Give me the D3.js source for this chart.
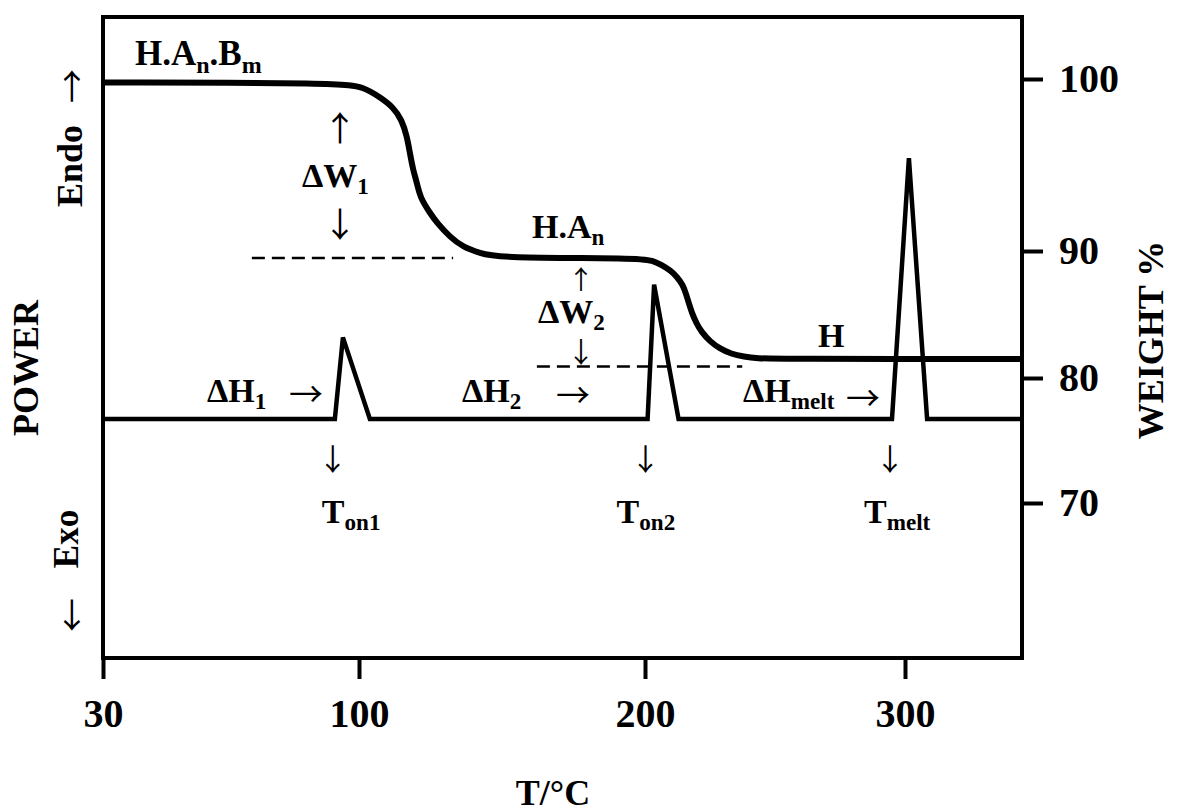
<!DOCTYPE html>
<html>
<head>
<meta charset="utf-8">
<script src="https://cdn.jsdelivr.net/npm/d3@7"></script>
<style>
  body { margin: 0; background: #fff; }
  text { font-family: "Liberation Serif", "Times New Roman", serif; font-weight: bold; fill: #000; }
  text.arw { font-family: "Noto Sans CJK JP", "DejaVu Sans", sans-serif; font-weight: normal; fill: #000; }
</style>
</head>
<body>
<svg id="chart" width="1178" height="812"></svg>
<script>
// temperature axis ticks (degC) and weight axis ticks (%)
const tempTicks = [30, 100, 200, 300];
const weightTicks = [100, 90, 80, 70];

// TG trace: weight % against temperature
const tgTemp = [30, 95.6, 101.4, 107.3, 111.9, 115.0, 116.8, 117.8, 118.9, 120.3, 121.3,
                124.8, 127.3, 131.8, 136.4, 142.3, 148.3,
                198.3, 202.9, 206.4, 209.9, 212.2, 214.6, 215.7, 216.9, 218.1, 219.8,
                221.6, 225.1, 228.6, 233.2, 237.9, 243.7, 249.5, 345];
const tgWeight = [99.8, 99.77, 99.53, 98.95, 98.37, 97.62, 96.63, 95.70, 94.71, 93.95, 93.14,
                  92.21, 91.63, 90.81, 90.23, 89.84, 89.45,
                  89.45, 89.24, 88.90, 88.45, 87.98, 87.32, 86.67, 85.88, 85.09, 84.31,
                  83.65, 82.86, 82.34, 81.89, 81.68, 81.55, 81.5, 81.5];

// DSC trace: power (arbitrary units) against temperature
const dscTemp = [30, 93.4, 95.6, 103.8, 201.0, 203.5, 212.9, 295.0, 301.5, 308.5, 345];
const dscPower = [0, 0, 5.1, 0, 0, 8.4, 0, 0, 16.3, 0, 0];

// dashed reference levels for the weight steps
const stepLevels = [
  {from: 70.7, to: 132.9, w: 89.45},
  {from: 162.2, to: 237.4, w: 80.9}
];

// onset temperatures of the three events
const onsets = [93.4, 201.0, 295.0];
const onsetNames = ["on1", "on2", "melt"];

const svg = d3.select("#chart");
const mLeft = 103, mTop = 17, mRight = 1022, mBottom = 658;

// the original sketch is not linear in T, so use a piecewise scale
const x = d3.scaleLinear()
  .domain([30, 100, 200, 300, 345])
  .range([mLeft, 359, 645, 905, mRight]);

const yW = d3.scaleLinear()
  .domain([100, 90, 80, 70])
  .range([79, 251, 378, 503]);

const yP = d3.scaleLinear()
  .domain([0, 20])
  .range([419, 99]);

// frame
svg.append("rect")
  .attr("x", mLeft).attr("y", mTop)
  .attr("width", mRight - mLeft).attr("height", mBottom - mTop)
  .attr("fill", "none").attr("stroke", "#000").attr("stroke-width", 4);

// bottom axis
const xAxis = svg.append("g")
  .attr("transform", "translate(0," + mBottom + ")")
  .call(d3.axisBottom(x).tickValues(tempTicks).tickSize(21).tickFormat(d3.format("d")));
xAxis.select(".domain").remove();
xAxis.selectAll("line").attr("stroke-width", 4);
xAxis.selectAll("text")
  .attr("y", 69).attr("dy", 0)
  .style("font-size", "40px")
  .style("font-family", "Liberation Serif, serif")
  .style("font-weight", "bold");

// right axis (weight)
const wAxis = svg.append("g")
  .attr("transform", "translate(" + mRight + ",0)")
  .call(d3.axisRight(yW).tickValues(weightTicks).tickSize(21).tickFormat(d3.format("d")));
wAxis.select(".domain").remove();
wAxis.selectAll("line").attr("stroke-width", 4);
wAxis.selectAll("text")
  .attr("x", 37).attr("dy", "0.3em")
  .style("font-size", "40px")
  .style("font-family", "Liberation Serif, serif")
  .style("font-weight", "bold");

// traces
const tgLine = d3.line()
  .x(i => x(tgTemp[i]))
  .y(i => yW(tgWeight[i]))
  .curve(d3.curveBasis);

svg.append("path")
  .attr("d", tgLine(d3.range(tgTemp.length)))
  .attr("fill", "none").attr("stroke", "#000")
  .attr("stroke-width", 6);

const dscLine = d3.line()
  .x(i => x(dscTemp[i]))
  .y(i => yP(dscPower[i]));

svg.append("path")
  .attr("d", dscLine(d3.range(dscTemp.length)))
  .attr("fill", "none").attr("stroke", "#000")
  .attr("stroke-width", 4.5).attr("stroke-linejoin", "miter");

svg.selectAll(".step")
  .data(stepLevels)
  .join("line")
  .attr("class", "step")
  .attr("x1", d => x(d.from)).attr("x2", d => x(d.to))
  .attr("y1", d => yW(d.w)).attr("y2", d => yW(d.w))
  .attr("stroke", "#000").attr("stroke-width", 2.5)
  .attr("stroke-dasharray", "13,7");

// label helper: main text plus optional subscript
function label(px, py, main, sub, size) {
  size = size || 34;
  let t = svg.append("text")
    .attr("x", px).attr("y", py)
    .style("font-size", size + "px");
  t.append("tspan").text(main);
  if (sub) {
    t.append("tspan").text(sub)
      .attr("dy", size * 0.22)
      .style("font-size", (size * 0.68) + "px");
  }
  return t;
}

// arrow glyph centred on (px, py)
function arrow(px, py, ch, size, rot) {
  svg.append("text")
    .attr("class", "arw")
    .attr("transform", "translate(" + px + "," + py + ")" + (rot ? " rotate(" + rot + ")" : ""))
    .attr("text-anchor", "middle")
    .attr("dominant-baseline", "central")
    .style("font-size", (size || 32) + "px")
    .text(ch);
}

// species labels
let t1 = svg.append("text").attr("x", 135).attr("y", 65).style("font-size", "35px");
t1.append("tspan").text("H.A");
t1.append("tspan").text("n").attr("dy", 8).style("font-size", "24px");
t1.append("tspan").text(".B").attr("dy", -8);
t1.append("tspan").text("m").attr("dy", 8).style("font-size", "24px");

label(532, 238, "H.A", "n");
label(818, 347, "H");

// weight loss steps
arrow(340, 126, "\u2191", 34);
label(302, 187, "\u0394W", "1");
arrow(340, 222, "\u2193", 34);

arrow(581, 277, "\u2191", 26);
label(538, 323, "\u0394W", "2");
arrow(581, 351, "\u2193", 28);

// enthalpy labels
label(207, 402, "\u0394H", "1");
arrow(306, 392, "\u2192", 34);
label(462, 402, "\u0394H", "2");
arrow(573, 393, "\u2192", 34);
label(743, 402, "\u0394H", "melt");
arrow(863, 396, "\u2192", 34);

// onset markers
const onsetShift = [-13, -31, -28];
onsets.forEach((T, i) => {
  arrow(x(T) - 2, 457, "\u2193", 30);
  label(x(T) + onsetShift[i], 523, "T", onsetNames[i]);
});

// axis titles
svg.append("text")
  .attr("transform", "translate(38,368) rotate(-90)")
  .attr("text-anchor", "middle")
  .style("font-size", "36px")
  .text("POWER");

svg.append("text")
  .attr("transform", "translate(82,166) rotate(-90)")
  .attr("text-anchor", "middle")
  .style("font-size", "36px")
  .text("Endo");
arrow(70, 86, "\u2192", 34, -90);

svg.append("text")
  .attr("transform", "translate(78,539) rotate(-90)")
  .attr("text-anchor", "middle")
  .style("font-size", "35px")
  .text("Exo");
arrow(70, 615, "\u2190", 34, -90);

svg.append("text")
  .attr("transform", "translate(1163,340) rotate(-90)")
  .attr("text-anchor", "middle")
  .style("font-size", "36px")
  .text("WEIGHT %");

svg.append("text")
  .attr("x", 553).attr("y", 805)
  .attr("text-anchor", "middle")
  .style("font-size", "36px")
  .text("T/\u00B0C");
</script>
</body>
</html>
